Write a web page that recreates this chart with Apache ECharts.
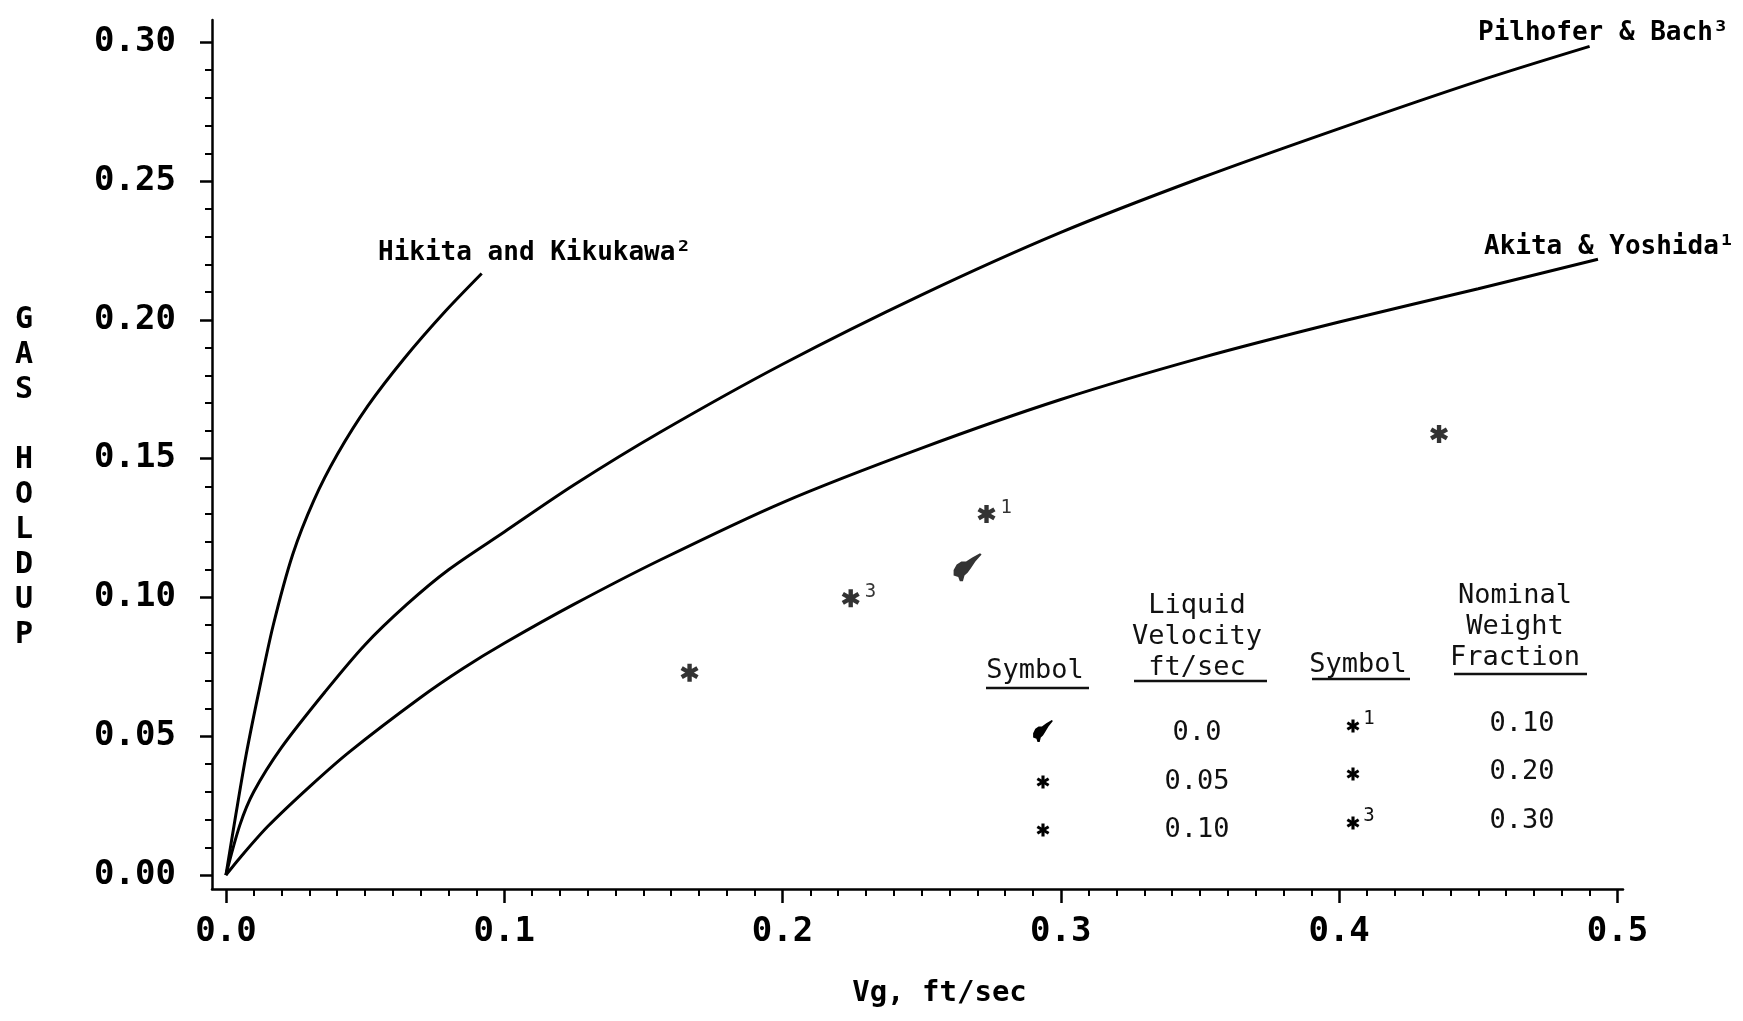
<!DOCTYPE html>
<html>
<head>
<meta charset="utf-8">
<script src="https://cdn.jsdelivr.net/npm/echarts@6/dist/echarts.min.js"></script>
<style>
html,body{margin:0;padding:0;background:#fff;}
#chart{width:1743px;height:1021px;}
</style>
</head>
<body>
<div id="chart"></div>
<script>
// ---- data ----
const xTicks = [0, 0.1, 0.2, 0.3, 0.4, 0.5];
const xTickLabels = ['0.0', '0.1', '0.2', '0.3', '0.4', '0.5'];
const yTicks = [0, 0.05, 0.10, 0.15, 0.20, 0.25, 0.30];
const yTickLabels = ['0.00', '0.05', '0.10', '0.15', '0.20', '0.25', '0.30'];

const hikita = [[0,0],[0.0036,0.022],[0.0072,0.043],[0.0116,0.065],[0.017,0.090],[0.024,0.1155],[0.0316,0.135],[0.040,0.1515],[0.051,0.169],[0.064,0.186],[0.0781,0.2023],[0.0919,0.2167]];
const pilhofer = [[0,0],[0.005,0.018],[0.01,0.030],[0.02,0.046],[0.0356,0.066],[0.05,0.083],[0.065,0.0975],[0.08,0.110],[0.1,0.1236],[0.125,0.1405],[0.156,0.1595],[0.2,0.1840],[0.25,0.2090],[0.3,0.2315],[0.35,0.2510],[0.4,0.2689],[0.45,0.2860],[0.49,0.2985]];
const akita = [[0,0],[0.005,0.0062],[0.015,0.0175],[0.03,0.0318],[0.0445,0.0445],[0.0697,0.0638],[0.0853,0.0745],[0.1,0.0835],[0.125,0.0975],[0.156,0.1135],[0.2,0.1342],[0.25,0.1538],[0.3,0.1713],[0.35,0.1862],[0.4,0.1992],[0.45,0.2112],[0.493,0.2218]];

// measured points
const featherPts = [[0.2665, 0.1109]];                 // liquid velocity 0.0
const starPts = [[0.2733, 0.1301], [0.2245, 0.0997], [0.1666, 0.0729], [0.4359, 0.1589]];
const starSup = ['1', '3', '', ''];                    // nominal weight fraction marker

const curveNames = ['Hikita and Kikukawa\u00B2', 'Pilhofer & Bach\u00B3', 'Akita & Yoshida\u00B9'];
const yTitle = 'G\nA\nS\n\nH\nO\nL\nD\nU\nP';

// ---- table (legend) text ----
const tblHead1 = ['Symbol'];
const tblHead2 = ['Liquid', 'Velocity', 'ft/sec'];
const tblHead3 = ['Symbol'];
const tblHead4 = ['Nominal', 'Weight', 'Fraction'];
const liqVel = ['0.0', '0.05', '0.10'];
const wtSup = ['1', '', '3'];
const wtFrac = ['0.10', '0.20', '0.30'];

// ---- helpers ----
function minorOf(major, step) {
  const out = [];
  for (let i = 0; i < major.length - 1; i++) {
    const a = major[i], b = major[i + 1];
    const n = Math.round((b - a) / step);
    for (let k = 1; k < n; k++) out.push(+(a + k * step).toFixed(4));
  }
  return out;
}
const xMinor = minorOf(xTicks, 0.01);
const yMinor = minorOf(yTicks, 0.01);

const STAR = 'path://M-1.2,-5L1.2,-5L1.2,5L-1.2,5Z M-4.93,-1.46L-3.73,-3.54L4.93,1.46L3.73,3.54Z M3.73,-3.54L4.93,-1.46L-3.73,3.54L-4.93,1.46Z';
const FEATHER_PTS = [[-9,2],[-7,-2],[-4,-4],[-1,-4],[3,-7],[8,-10],[9,-9],[5,-4],[2,1],[0,4],[-2,6],[-3,10],[-5,10],[-6,7],[-9,6]];
const FEATHER = 'path://M' + FEATHER_PTS.map(p => p.join(',')).join('L') + 'Z';

const MONO = 'DejaVu Sans Mono';
const chart = echarts.init(document.getElementById('chart'), null, {renderer: 'canvas'});

const axisLineStyle = {color: '#000', width: 2.5};

const graphics = [];
// y axis title (stacked letters)
graphics.push({type:'text', x:24, y:478, style:{text:yTitle, font:'bold 30px "DejaVu Sans Mono"', lineHeight:35, fill:'#000', textAlign:'center', textVerticalAlign:'middle'}});
// curve name annotations
const LF = 'bold 26px "DejaVu Sans Mono"';
graphics.push({type:'text', x:378, y:253, style:{text:curveNames[0], font:LF, fill:'#000', textAlign:'left', textVerticalAlign:'middle'}});
graphics.push({type:'text', x:1478, y:33, style:{text:curveNames[1], font:LF, fill:'#000', textAlign:'left', textVerticalAlign:'middle'}});
graphics.push({type:'text', x:1484, y:247, style:{text:curveNames[2], font:LF, fill:'#000', textAlign:'left', textVerticalAlign:'middle'}});

// table
const TF = '27px "DejaVu Sans Mono"';
function txt(s, x, y, font) {
  graphics.push({type:'text', x:x, y:y, style:{text:s, font:font || TF, fill:'#111', textAlign:'center', textVerticalAlign:'middle'}});
}
function uline(x1, x2, y) {
  graphics.push({type:'line', shape:{x1:x1, y1:y, x2:x2, y2:y}, style:{stroke:'#111', lineWidth:2.5}});
}
function star(cx, cy, size) {
  const L = size, W = size * 0.24;
  graphics.push({type:'group', x:cx, y:cy, children:[0, 60, 120].map(a => ({
    type:'rect', rotation: a * Math.PI / 180, shape:{x:-W/2, y:-L/2, width:W, height:L}, style:{fill:'#000'}
  }))});
}
function feather(cx, cy, size) {
  const s = size / 20;
  graphics.push({type:'polygon', x:cx, y:cy, shape:{points: FEATHER_PTS.map(p => [p[0]*s, p[1]*s])}, style:{fill:'#000'}});
}
txt(tblHead1[0], 1035, 671); uline(986, 1089, 688);
tblHead2.forEach((s, i) => txt(s, 1197, 606 + i * 31)); uline(1134, 1267, 681);
txt(tblHead3[0], 1358, 665); uline(1312, 1410, 679);
tblHead4.forEach((s, i) => txt(s, 1515, 596 + i * 31)); uline(1454, 1587, 674);
const rowY1 = [733, 782, 830];
const rowY2 = [724, 772, 821];
feather(1043, rowY1[0] - 2, 22);
star(1043, rowY1[1], 13);
star(1043, rowY1[2], 13);
liqVel.forEach((s, i) => txt(s, 1197, rowY1[i]));
wtSup.forEach((s, i) => {
  star(1353, rowY2[i] + 2, 13);
  if (s) txt(s, 1369, rowY2[i] - 5, '19px "DejaVu Sans Mono"');
});
wtFrac.forEach((s, i) => txt(s, 1522, rowY2[i]));

const option = {
  backgroundColor: '#fff',
  animation: false,
  grid: {left: 212, right: 120, top: 20, bottom: 132, containLabel: false, outerBoundsMode: 'none'},
  xAxis: [{
    type: 'value', min: -0.005, max: 0.502,
    name: 'Vg, ft/sec', nameLocation: 'middle', nameGap: 104,
    nameTextStyle: {fontFamily: MONO, fontWeight: 'bold', fontSize: 29, color: '#000', verticalAlign: 'middle', padding: [0, 0, 0, 44]},
    axisLine: {show: true, onZero: false, lineStyle: axisLineStyle},
    axisTick: {show: true, inside: false, length: 14, customValues: xTicks, lineStyle: {color: '#000', width: 2.5}},
    axisLabel: {show: true, margin: 26, customValues: xTicks, formatter: v => xTickLabels[xTicks.findIndex(t => Math.abs(t - v) < 1e-9)] || '',
      fontFamily: MONO, fontWeight: 'bold', fontSize: 34, color: '#000'},
    splitLine: {show: false}
  }, {
    type: 'value', min: -0.005, max: 0.502, position: 'bottom',
    axisLine: {show: false, onZero: false},
    axisTick: {show: true, inside: false, length: 7, customValues: xMinor, lineStyle: {color: '#000', width: 2}},
    axisLabel: {show: false},
    splitLine: {show: false}
  }],
  yAxis: [{
    type: 'value', min: -0.005, max: 0.308,
    axisLine: {show: true, onZero: false, lineStyle: axisLineStyle},
    axisTick: {show: true, inside: false, length: 12, customValues: yTicks, lineStyle: {color: '#000', width: 2.5}},
    axisLabel: {show: true, margin: 36, customValues: yTicks, formatter: v => yTickLabels[yTicks.findIndex(t => Math.abs(t - v) < 1e-9)] || '',
      fontFamily: MONO, fontWeight: 'bold', fontSize: 34, color: '#000'},
    splitLine: {show: false}
  }, {
    type: 'value', min: -0.005, max: 0.308, position: 'left',
    axisLine: {show: false, onZero: false},
    axisTick: {show: true, inside: false, length: 7, customValues: yMinor, lineStyle: {color: '#000', width: 2}},
    axisLabel: {show: false},
    splitLine: {show: false}
  }],
  series: [
    {name: curveNames[0], type: 'line', data: hikita, smooth: 0.3, showSymbol: false, lineStyle: {color: '#000', width: 3}},
    {name: curveNames[1], type: 'line', data: pilhofer, smooth: 0.3, showSymbol: false, lineStyle: {color: '#000', width: 3}},
    {name: curveNames[2], type: 'line', data: akita, smooth: 0.3, showSymbol: false, lineStyle: {color: '#000', width: 3}},
    {name: 'Liquid velocity 0.0', type: 'scatter', data: featherPts, symbol: FEATHER, symbolSize: 28, itemStyle: {color: '#000'}},
    {name: 'Data', type: 'scatter', symbol: STAR, symbolSize: 18, itemStyle: {color: '#000'},
      data: starPts.map((p, i) => ({value: p, name: starSup[i]})),
      label: {show: true, position: 'right', distance: 5, offset: [0, -6], formatter: p => p.name,
        fontFamily: MONO, fontSize: 19, color: '#000'}}
  ],
  graphic: graphics
};
chart.setOption(option);
</script>
</body>
</html>
